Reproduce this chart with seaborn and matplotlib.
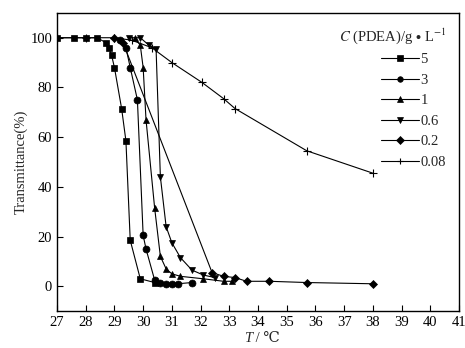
import numpy as np
import pandas as pd
import matplotlib
matplotlib.use("Agg")
import matplotlib.pyplot as plt
import seaborn as sns

# --- data (T in degC, transmittance in %) ---
t_5 = [27.0, 27.6, 28.0, 28.4, 28.7, 28.8, 28.9, 29.0, 29.25, 29.4, 29.55, 29.9, 30.4]
y_5 = [100, 100, 100, 100, 98, 96, 93, 88, 71.5, 58.5, 18.5, 3, 1.5]

t_3 = [29.2, 29.4, 29.55, 29.8, 30.0, 30.1, 30.4, 30.6, 30.8, 31.0, 31.2, 31.7]
y_3 = [99, 96, 88, 75, 20.5, 15, 2.5, 1.5, 1, 1, 1, 1.5]

t_1 = [29.7, 29.9, 30.0, 30.1, 30.4, 30.6, 30.8, 31.0, 31.3, 32.1, 32.8, 33.1]
y_1 = [100, 97, 88, 67, 31.5, 12, 7, 5, 4, 3, 2, 2]

t_06 = [29.5, 29.9, 30.2, 30.45, 30.6, 30.8, 31.0, 31.3, 31.7, 32.1, 32.5]
y_06 = [100, 100, 97, 95.5, 44, 24, 17.5, 11.5, 6.5, 4.5, 3.5]

t_02 = [29.0, 29.3, 32.4, 32.8, 33.2, 33.6, 34.4, 35.7, 38.0]
y_02 = [100, 98, 5.5, 4, 3.5, 2, 2, 1.5, 1]

t_008 = [27.0, 28.0, 29.0, 29.6, 30.3, 31.0, 32.05, 32.8, 33.2, 35.7, 38.0]
y_008 = [100, 100, 100, 99, 96, 90, 82, 75.5, 71.5, 54.5, 45.5]

labels = ["5", "3", "1", "0.6", "0.2", "0.08"]
markers = ["s", "o", "^", "v", "D", "+"]

series = [(t_5, y_5), (t_3, y_3), (t_1, y_1), (t_06, y_06), (t_02, y_02), (t_008, y_008)]

sns.set_style("ticks")
plt.rcParams['font.family'] = ['Liberation Serif', 'DejaVu Serif']
plt.rcParams['mathtext.fontset'] = 'stix'

fig = plt.figure(figsize=(4.65, 3.48), dpi=100)
ax = fig.add_axes([0.1226, 0.106, 0.8645, 0.857])

for (t, y), lab, m in zip(series, labels, markers):
    df = pd.DataFrame({"T": t, "Y": y})
    ms = 5 if m != "D" else 4.5
    if m == "+":
        ms = 6
    sns.lineplot(data=df, x="T", y="Y", ax=ax, color="black", lw=0.8,
                 marker=m, markersize=ms, markeredgewidth=0.8 if m == "+" else 0.5,
                 markerfacecolor="black", markeredgecolor="black",
                 estimator=None, sort=False, label=lab)

ax.set_xlim(27, 41)
ax.set_ylim(-10, 110)
ax.set_xticks(np.arange(27, 42, 1))
ax.set_yticks(np.arange(0, 101, 20))
ax.tick_params(direction="in", length=4, width=0.8, labelsize=10.5, colors="black")
for s in ax.spines.values():
    s.set_linewidth(1.0)
    s.set_color("black")

# x label: italic T followed by plain " / ℃" (plain text keeps font fallback)
ax.set_xlabel("")
fig.text(0.543, 0.028, "T", style="italic", fontsize=10.5, ha="right", va="center")
fig.text(0.543, 0.028, " / \u2103", fontsize=10.5, ha="left", va="center")
ax.set_ylabel("Transmittance(%)", fontsize=10.5, labelpad=2)

leg = ax.legend(title="$C$ (PDEA)/g $\\bullet$ L$^{-1}$", loc="upper right",
                frameon=False, fontsize=10.5, title_fontsize=10.5,
                handlelength=2.6, handletextpad=0.1, labelspacing=0.5,
                markerscale=0.8, borderaxespad=0.5)
leg._legend_box.align = "right"

fig.savefig("out.png", dpi=100)
